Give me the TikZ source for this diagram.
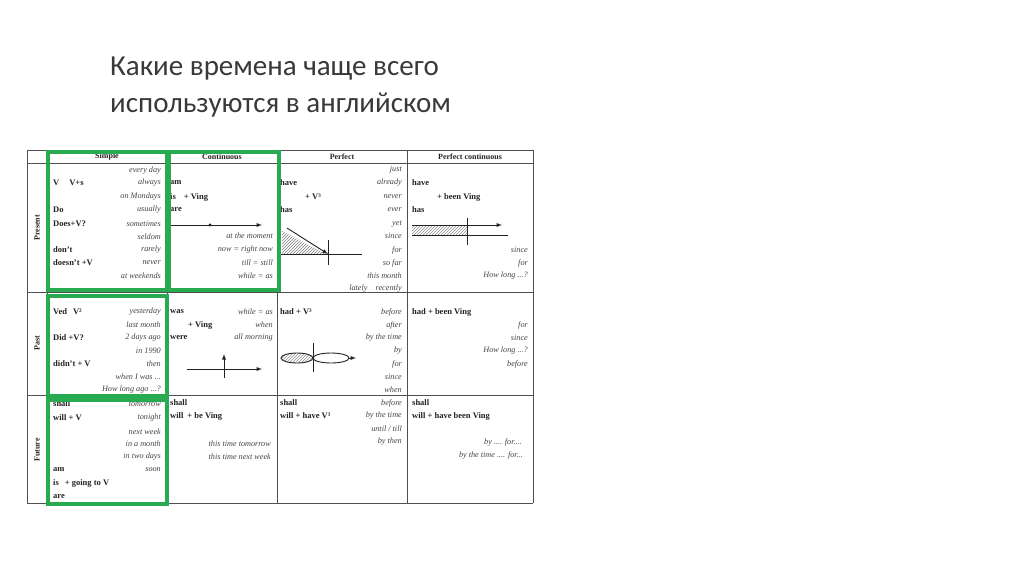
\documentclass[tikz,border=0pt]{standalone}
\usepackage{fontspec}
\setmainfont{Liberation Serif}
\newfontfamily\titlefont{Carlito}
\usetikzlibrary{patterns}
\definecolor{gr}{RGB}{40,170,80}
\definecolor{ink}{RGB}{35,35,35}
\begin{document}
\begin{tikzpicture}[x=1pt,y=-1pt,
 L/.style={anchor=west,inner sep=0pt,font=\fontsize{8.5}{9}\selectfont\bfseries,text=ink},
 R/.style={anchor=east,inner sep=0pt,font=\fontsize{8.2}{9}\selectfont\itshape,text=ink!85},
 H/.style={inner sep=0pt,font=\fontsize{8}{9}\selectfont\bfseries,text=ink},
 grid/.style={draw=ink!80,line width=0.6pt},
 gbox/.style={draw=gr,line width=3.5pt},
 ln/.style={draw=ink,line width=0.9pt}]
\useasboundingbox (0,0) rectangle (1024,574);
\fill[white] (0,0) rectangle (1024,574);
% title
\node[anchor=base west,inner sep=0pt,font=\titlefont\fontsize{29}{34}\selectfont,text=ink!90] (t1) at (110,75) {Какие времена чаще всего};
\node[anchor=base west,inner sep=0pt,font=\titlefont\fontsize{29}{34}\selectfont,text=ink!90] (t2) at (110,112) {используются в английском};
% grid
\draw[grid] (27,150) -- (533,150);
\draw[grid] (27,163) -- (533,163);
\draw[grid] (27,292) -- (533,292);
\draw[grid] (27,395) -- (533,395);
\draw[grid] (27,503) -- (533,503);
\foreach \x in {27,47,167,277,407,533} \draw[grid] (\x,150) -- (\x,503);
% headers
\node[H] at (107,157) {Simple};
\node[H] at (222,157) {Continuous};
\node[H] at (342,157) {Perfect};
\node[H] at (470,157) {Perfect continuous};
\node[H,rotate=90] at (37,228) {Present};
\node[H,rotate=90] at (37,343) {Past};
\node[H,rotate=90] at (37,450) {Future};
% present simple
\node[L] at (53,183) {V\hspace{10pt}V+s};
\node[L] at (53,210) {Do};
\node[L] at (53,224) {Does+V?};
\node[L] at (53,250) {don't};
\node[L] at (53,263) {doesn't +V};
\foreach \t/\y in {every day/171,always/183,on Mondays/197,usually/210,sometimes/224,seldom/237,rarely/250,never/263,at weekends/276}
  \node[R] at (161,\y) {\t};
% present continuous
\node[L] at (170,183) {am};
\node[L] at (170,197) {is\hspace{8pt}+ Ving};
\node[L] at (170,210) {are};
\draw[ln,-latex] (170,225) -- (262,225);
\fill[ink] (210,225) circle (1.6);
\foreach \t/\y in {at the moment/236,now = right now/250,till = still/263,while = as/276}
  \node[R] at (273,\y) {\t};
% present perfect
\node[L] at (280,183) {have};
\node[L] at (305,197) {+ V³};
\node[L] at (280,210) {has};
\foreach \t/\y in {just/170,already/183,never/197,ever/210,yet/224,since/236,for/250,so far/263,this month/276,lately\quad recently/289}
  \node[R] at (402,\y) {\t};
\fill[pattern=north east lines,pattern color=ink!60] (282,231) -- (282,254) -- (326,254) -- cycle;
\draw[ln,-latex] (287,228) -- (328,254);
\draw[ln] (280,254) -- (362,254);
\draw[ln] (328,240) -- (328,265);
% present perfect continuous
\node[L] at (412,183) {have};
\node[L] at (437,197) {+ been Ving};
\node[L] at (412,210) {has};
\fill[pattern=north east lines,pattern color=ink!50] (412,225) rectangle (467,235);
\draw[ln,-latex] (412,225) -- (502,225);
\draw[ln] (412,235) -- (508,235);
\draw[ln] (467,218) -- (467,245);
\node[R] at (528,250) {since};
\node[R] at (528,263) {for};
\node[R] at (528,276) {How long ...?};
% past simple
\node[L] at (53,312) {Ved\hspace{6pt}V²};
\node[L] at (53,338) {Did +V?};
\node[L] at (53,364) {didn't + V};
\foreach \t/\y in {yesterday/312,last month/325,2 days ago/338,in 1990/351,then/364}
  \node[R] at (161,\y) {\t};
\node[R] at (161,377) {when I was ...};
\node[R] at (161,390) {How long ago ...?};
% past continuous
\node[L] at (170,312) {was};
\node[L] at (188,325) {+ Ving};
\node[L] at (170,338) {were};
\foreach \t/\y in {while = as/312,when/325,all morning/338}
  \node[R] at (273,\y) {\t};
\draw[ln,-latex] (187,369) -- (262,369);
\draw[ln,-latex] (224,378) -- (224,354);
% past perfect
\node[L] at (280,312) {had + V³};
\foreach \t/\y in {before/312,after/325,by the time/338,by/351,for/364,since/377,when/390}
  \node[R] at (402,\y) {\t};
\draw[ln,pattern=north east lines,pattern color=ink!50] (297,358) ellipse (16 and 5);
\draw[ln] (331,358) ellipse (18 and 5);
\draw[ln,-latex] (349,358) -- (356,358);
\draw[ln] (313,343) -- (313,372);
% past perfect continuous
\node[L] at (412,312) {had + been Ving};
\node[R] at (528,325) {for};
\node[R] at (528,338) {since};
\node[R] at (528,351) {How long ...?};
\node[R] at (528,364) {before};
% future simple
\node[L] at (53,404) {shall};
\node[L] at (53,418) {will + V};
\node[L] at (53,470) {am};
\node[L] at (53,483) {is\hspace{6pt}+ going to V};
\node[L] at (53,497) {are};
\foreach \t/\y in {tomorrow/404,tonight/418,next week/432,in a month/444,in two days/457,soon/470}
  \node[R] at (161,\y) {\t};
% future continuous
\node[L] at (170,403) {shall};
\node[L] at (170,416) {will\hspace{4pt}+ be Ving};
\node[R] at (271,444) {this time tomorrow};
\node[R] at (271,457) {this time next week};
% future perfect
\node[L] at (280,403) {shall};
\node[L] at (280,416) {will + have V³};
\node[R] at (402,403) {before};
\node[R] at (402,416) {by the time};
\node[R] at (402,429) {until / till};
\node[R] at (402,442) {by then};
% future perfect continuous
\node[L] at (412,403) {shall};
\node[L] at (412,416) {will + have been Ving};
\node[R] at (522,442) {by .... for....};
\node[R] at (523,455) {by the time .... for...};
% green boxes
\draw[gbox] (48,152) rectangle (167,290);
\draw[gbox] (169,152) rectangle (279,290);
\draw[gbox] (48,296) rectangle (167,396);
\draw[gbox] (48,400) rectangle (167,504);
\end{tikzpicture}
\end{document}
